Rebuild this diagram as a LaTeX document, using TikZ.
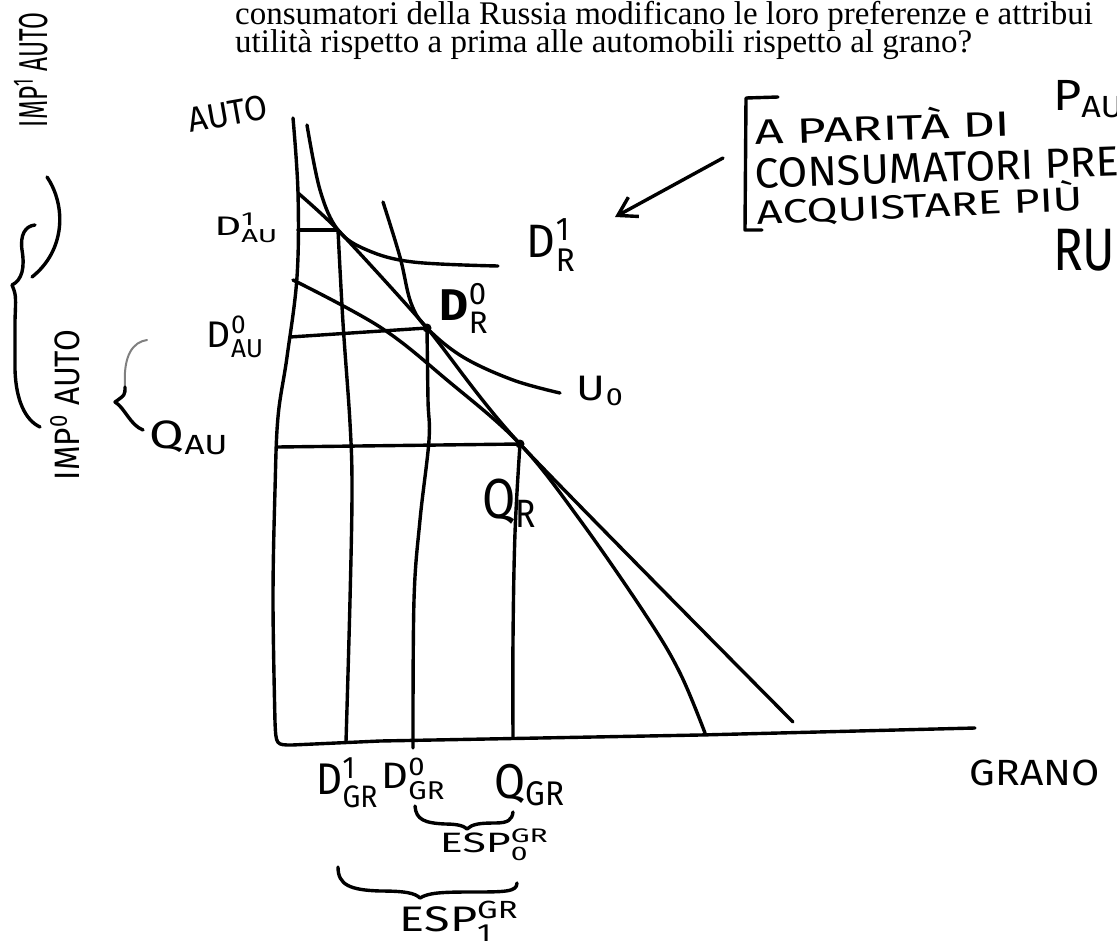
\documentclass[tikz,border=0pt]{standalone}
\usepackage{fontspec}
\usepackage{amsmath}
\usepackage{graphicx}
\setmainfont{Liberation Serif}
\newfontfamily\hand{Fira Sans}
\usetikzlibrary{arrows.meta}
\newcommand{\hw}[3]{\resizebox*{#1}{#2}{\hand #3}}
\begin{document}
\begin{tikzpicture}[x=1pt,y=-1pt,
  ink/.style={line width=3.4pt, line cap=round, line join=round},
  faint/.style={line width=2pt, line cap=round, gray},
  lbl/.style={inner sep=0pt, anchor=center},
  printed/.style={inner sep=0pt, anchor=base west, font=\fontsize{33}{33}\selectfont}]
\useasboundingbox (0,0) rectangle (1117,943);
\clip (0,0) rectangle (1117,943);

% printed question text
\node[printed] (t1) at (235,24) {consumatori della Russia modificano le loro preferenze e attribui};
\node[printed] (t2) at (235,52) {utilità rispetto a prima alle automobili rispetto al grano?};

% key points
\coordinate (DpR) at (338,230);
\coordinate (D0R) at (427,328);
\coordinate (QR)  at (520,444);
\coordinate (O)   at (279,745);

% axes
\draw[ink] plot[smooth, tension=0.6] coordinates {(293,118) (298,193) (297,277) (287,357) (278,417) (275,490) (273,600) (275,722)}
  .. controls (276,745) .. (292,745) -- (380,741) -- (700,735) -- (975,728);

% indifference curve D'R
\draw[ink] plot[smooth, tension=0.6] coordinates {(307,125) (320,190) (DpR) (367,250) (413,262) (498,266)};
% indifference curve U0
\draw[ink] plot[smooth, tension=0.6] coordinates {(383,202) (400,257) (411,303) (D0R) (463,357) (513,380) (560,393)};
% budget (price) line
\draw[ink] plot[smooth, tension=0.4] coordinates {(298,193) (DpR) (D0R) (QR) (793,722)};
% production possibility frontier
\draw[ink] plot[smooth, tension=0.6] coordinates {(293,280) (380,327) (447,380) (QR) (580,520) (647,617) (680,673) (705,733)};

% guide lines
\draw[ink] (298,230) -- (DpR);
\draw[ink] plot[smooth, tension=0.6] coordinates {(DpR) (343,323) (350,423) (352,490) (350,600) (346,742)};
\draw[ink] (290,337) -- (D0R);
\draw[ink] plot[smooth, tension=0.6] coordinates {(D0R) (428,400) (429,440) (420,520) (414,600) (413,748)};
\draw[ink] (277,447) -- (QR);
\draw[ink] plot[smooth, tension=0.6] coordinates {(QR) (515,533) (513,640) (513,737)};

\fill (D0R) circle (4.5);
\fill (QR) circle (4.5);

% axis labels
\node[lbl, rotate=10] (lauto) at (228,114) {\hw{80pt}{25pt}{AUTO}};
\node[lbl] (lgrano) at (1035,773) {\hw{130pt}{26pt}{GRANO}};

% quantity labels
\node[lbl] (lDAU1) at (247,228) {\hw{65pt}{30pt}{D$^{\text{1}}_{\text{AU}}$}};
\node[lbl] (lDAU0) at (236,337) {\hw{58pt}{42pt}{D$^{\text{0}}_{\text{AU}}$}};
\node[lbl] (lQAU)  at (190,438) {\hw{80pt}{34pt}{Q$_{\text{AU}}$}};
\node[lbl] (lDR1)  at (552,245) {\hw{50pt}{52pt}{D$^{\text{1}}_{\text{R}}$}};
\node[lbl] (lDR0)  at (465,308) {\hw{50pt}{50pt}{\bfseries D$^{\text{\mdseries 0}}_{\text{\mdseries R}}$}};
\node[lbl] (lU0)   at (601,391) {\hw{48pt}{30pt}{U$_{\text{0}}$}};
\node[lbl] (lQR)   at (510,503) {\hw{56pt}{48pt}{Q$_{\text{R}}$}};
\node[lbl] (lDGR1) at (348,783) {\hw{63pt}{50pt}{D$^{\text{1}}_{\text{GR}}$}};
\node[lbl] (lDGR0) at (414,779) {\hw{65pt}{42pt}{D$^{\text{0}}_{\text{GR}}$}};
\node[lbl] (lQGR)  at (531,785) {\hw{72pt}{42pt}{Q$_{\text{GR}}$}};
\node[lbl] (lESP0) at (495,845) {\hw{110pt}{32pt}{ESP$^{\text{GR}}_{\text{0}}$}};
\node[lbl] (lESP1) at (460,921) {\hw{120pt}{40pt}{ESP$^{\text{GR}}_{\text{1}}$}};

% braces under x axis
\draw[ink] (415,806) .. controls (416,820) and (425,823) .. (445,824)
  .. controls (458,824) and (464,826) .. (467,829)
  .. controls (472,824) and (480,823) .. (495,823)
  .. controls (508,823) and (512,820) .. (513,812);
\draw[ink] (338,867) .. controls (338,885) and (350,890) .. (380,891)
  .. controls (405,891) and (415,893) .. (420,898)
  .. controls (428,893) and (440,892) .. (470,892)
  .. controls (505,892) and (517,892) .. (517,883);

% left margin notes
\node[lbl, rotate=90] (limp1) at (31,70) {\hw{114pt}{34pt}{IMP$^{\text{1}}$ AUTO}};
\node[lbl, rotate=90] (limp0) at (65,405) {\hw{150pt}{30pt}{IMP$^{\text{0}}$ AUTO}};
\draw[ink] (47,177) .. controls (66,205) and (66,250) .. (32,277);
\draw[ink] (35,225) .. controls (25,226) and (20,235) .. (22,250)
  .. controls (25,268) and (22,280) .. (12,285)
  .. controls (16,295) .. (15,320) -- (15,370)
  .. controls (16,400) and (25,420) .. (40,427);
\draw[faint] (147,340) .. controls (133,342) and (123,355) .. (125,387);
\draw[ink] (125,387) .. controls (125,395) .. (115,402)
  .. controls (125,408) and (130,425) .. (143,430);

% annotation block
\coordinate (arS) at (723,158);
\coordinate (arE) at (615,217);
\draw[ink, -{Straight Barb[length=18pt,width=22pt]}] (arS) -- (arE);
\draw[ink] (778,97) -- (746,98) -- (745,230) -- (762,230);
\node[lbl, anchor=west, rotate=2] (n1) at (755,129) {\hw{255pt}{32pt}{A PARITÀ DI}};
\node[lbl, anchor=west] (n1b) at (1053,99) {\hw{90pt}{37pt}{P$_{\text{AUT}}$}};
\node[lbl, anchor=west, rotate=2] (n2) at (755,174) {\hw{385pt}{30pt}{CONSUMATORI PREF}};
\node[lbl, anchor=west, rotate=2.5] (n3) at (757,211) {\hw{326pt}{34pt}{ACQUISTARE PIÙ}};
\node[lbl, anchor=west] (n4) at (1053,250) {\hw{62pt}{42pt}{RU}};
\end{tikzpicture}
\end{document}
